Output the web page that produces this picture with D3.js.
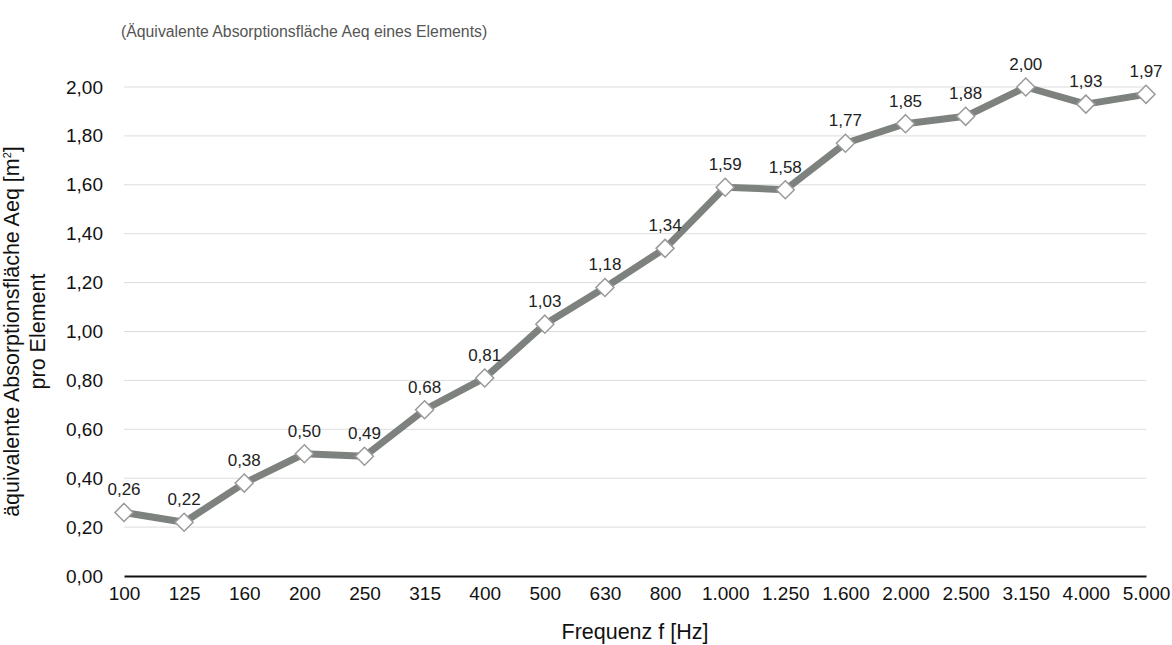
<!DOCTYPE html>
<html>
<head>
<meta charset="utf-8">
<script src="https://cdn.jsdelivr.net/npm/d3@7"></script>
<style>
  body { margin: 0; background: #fff; }
  text { font-family: "Liberation Sans", Arial, Helvetica, sans-serif; }
</style>
</head>
<body>
<div id="drawing"></div>
<script>
// chart values
const frequencies = ["100", "125", "160", "200", "250", "315", "400", "500", "630", "800",
  "1.000", "1.250", "1.600", "2.000", "2.500", "3.150", "4.000", "5.000"];
const aeqValues = [0.26, 0.22, 0.38, 0.50, 0.49, 0.68, 0.81, 1.03, 1.18, 1.34,
  1.59, 1.58, 1.77, 1.85, 1.88, 2.00, 1.93, 1.97];
const yTicks = [0, 0.2, 0.4, 0.6, 0.8, 1.0, 1.2, 1.4, 1.6, 1.8, 2.0];

const width = 1172;
const height = 645;
const margin = {top: 87, right: 26, bottom: 69, left: 124};
let svg, plot;

const fmt = (v) => v.toFixed(2).replace(".", ",");

function setup(){
  svg = d3.select("#drawing").append("svg")
    .attr("width", width)
    .attr("height", height);
  plot = svg.append("g")
    .attr("transform", `translate(${margin.left}, ${margin.top})`);
}

function make(){
  const w = width - margin.left - margin.right;
  const h = height - margin.top - margin.bottom;

  const x = d3.scalePoint().domain(frequencies).range([0, w]);
  const y = d3.scaleLinear().domain([0, 2]).range([h, 0]);

  // grid lines
  plot.selectAll(".grid")
    .data(yTicks.filter(d => d > 0))
    .enter()
    .append("line")
      .attr("class", "grid")
      .attr("x1", 0).attr("x2", w)
      .attr("y1", d => y(d)).attr("y2", d => y(d))
      .style("stroke", "#dcdcdc")
      .style("stroke-width", 1);

  // y axis labels
  const yAxis = plot.append("g")
    .call(d3.axisLeft(y).tickValues(yTicks).tickFormat(fmt).tickSize(0).tickPadding(21));
  yAxis.select(".domain").remove();
  yAxis.selectAll("text")
    .style("font-size", "19px")
    .style("fill", "#111")
    .style("font-family", "'Liberation Sans', Arial, sans-serif");

  // x axis
  const xAxis = plot.append("g")
    .attr("transform", `translate(0, ${h})`)
    .call(d3.axisBottom(x).tickSize(0).tickPadding(11));
  xAxis.select(".domain")
    .style("stroke", "#111")
    .style("stroke-width", 2);
  xAxis.selectAll("text")
    .style("font-size", "19px")
    .style("fill", "#111")
    .style("font-family", "'Liberation Sans', Arial, sans-serif");

  // line
  const line = d3.line()
    .x((d, i) => x(frequencies[i]))
    .y(d => y(d));
  plot.append("path")
    .datum(aeqValues)
    .attr("d", line)
    .style("fill", "none")
    .style("stroke", "#7e827e")
    .style("stroke-width", 7)
    .style("stroke-linejoin", "round");

  // diamond markers
  plot.selectAll(".marker")
    .data(aeqValues)
    .enter()
    .append("path")
      .attr("class", "marker")
      .attr("d", "M0,-9L9,0L0,9L-9,0Z")
      .attr("transform", (d, i) => `translate(${x(frequencies[i])}, ${y(d)})`)
      .style("fill", "#fff")
      .style("stroke", "#9a9a9a")
      .style("stroke-width", 1.5);

  // value labels
  plot.selectAll(".valueLabel")
    .data(aeqValues)
    .enter()
    .append("text")
      .attr("class", "valueLabel")
      .attr("x", (d, i) => x(frequencies[i]))
      .attr("y", d => y(d) - 17)
      .attr("text-anchor", "middle")
      .style("font-size", "17px")
      .style("fill", "#222")
      .text(fmt);

  // titles
  svg.append("text")
    .attr("x", 121)
    .attr("y", 37)
    .style("font-size", "15.8px")
    .style("fill", "#555")
    .text("(Äquivalente Absorptionsfläche Aeq eines Elements)");

  svg.append("text")
    .attr("x", 635)
    .attr("y", 639)
    .attr("text-anchor", "middle")
    .style("font-size", "21.5px")
    .style("fill", "#111")
    .text("Frequenz f [Hz]");

  const yTitle = svg.append("text")
    .attr("transform", `translate(0, ${margin.top + h / 2}) rotate(-90)`)
    .attr("text-anchor", "middle")
    .style("font-size", "21.5px")
    .style("fill", "#111");
  const first = yTitle.append("tspan").attr("x", 0).attr("y", 19)
    .text("äquivalente Absorptionsfläche Aeq [m");
  first.append("tspan").attr("dy", -8).style("font-size", "11px").text("2");
  first.append("tspan").attr("dy", 8).text("]");
  yTitle.append("tspan").attr("x", 0).attr("y", 45).text("pro Element");
}

setup();
make();
</script>
</body>
</html>
